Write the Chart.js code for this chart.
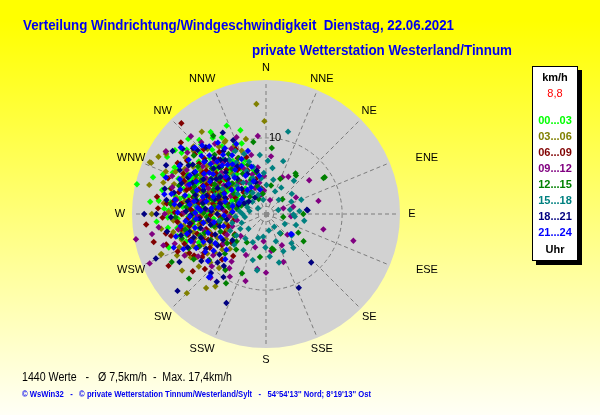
<!DOCTYPE html>
<html>
<head>
<meta charset="utf-8">
<script src="https://cdn.jsdelivr.net/npm/chart.js@4.4.0/dist/chart.umd.min.js"></script>
<style>
html, body { margin: 0; padding: 0; }
body {
  width: 600px; height: 415px; position: relative; overflow: hidden;
  background: linear-gradient(#ffff00 0%, #ffff00 5%, #fffff6 100%);
  font-family: 'Liberation Sans', Arial, sans-serif;
}
#c { position: absolute; left: 0; top: 0; }
.t { position: absolute; white-space: pre; transform-origin: 0 50%; line-height: 1; }
.title { color: #0000f0; font-weight: bold; font-size: 14px; }
.foot1 { color: #000; font-size: 12px; }
.foot2 { color: #0000f0; font-weight: bold; font-size: 8.5px; }
#legend {
  position: absolute; left: 532px; top: 66px; width: 44px; height: 193px;
  background: #fff; border: 1px solid #000; box-shadow: 4px 4px 0 #000;
}
#legend div {
  position: absolute; left: 0; width: 44px; text-align: center;
  font-size: 11px; font-weight: bold; line-height: 12px;
}
</style>
</head>
<body>
<canvas id="c" width="600" height="415"></canvas>

<div class="t title" style="left:23px;top:18px" data-w="431">Verteilung Windrichtung/Windgeschwindigkeit  Dienstag, 22.06.2021</div>
<div class="t title" style="left:252px;top:43px" data-w="260">private Wetterstation Westerland/Tinnum</div>

<div id="legend"></div>

<div class="t foot1" style="left:22px;top:371px" data-w="210">1440 Werte   -   Ø 7,5km/h  -  Max. 17,4km/h</div>
<div class="t foot2" style="left:22px;top:390px" data-w="349">© WsWin32   -   © private Wetterstation Tinnum/Westerland/Sylt   -   54°54'13'' Nord; 8°19'13'' Ost</div>

<script>
// wind points as [direction in degrees, speed in km/h], grouped by 3-hour block
const h00_03 = [[283,17.4],[336,12.7],[343,11.5],[306,13.7],[294,13.4],[283,14.0],[277,14.2],[266,14.4],[272,12.8],[273,13.4],[271,12.4],[256,12.0],[251,13.5],[279,10.6],[336,10.0],[339,7.6],[341,9.8],[325,12.2],[318,13.1],[300,15.0],[288,15.6],[262,13.0],
  [290,9.2],[295,8.4],[301,10.1],[287,11.3],[278,9.7],[284,7.9],[298,6.8],[305,9.5],[312,8.7],[308,11.2],[296,10.7],[281,12.1],[275,11.0],[268,10.2],[264,8.8],[270,7.5],[292,12.4],[303,12.0],[315,10.4],[322,9.1],[328,8.2],[319,7.3],[310,6.4],[300,5.9],[289,6.2],[279,6.6],[286,8.6],[293,7.1],[299,9.8],[306,7.7],[313,11.8],[327,10.6],[333,9.4],[330,11.6],[317,12.5],[297,11.6],[283,10.4],[274,9.1],[267,11.6],[260,10.5],[258,9.0],[265,6.9],[276,8.3],[282,5.4],[291,4.8],[304,4.4],[316,5.6],[324,6.5],[335,7.2],[344,6.0],[311,9.9],[302,7.3],[294,9.9],[288,10.1],[280,11.5],[272,8.6],[261,11.8],[255,10.8],[253,8.5],[258,7.3],[247,9.6],[285,13.0],[297,13.5],[309,13.4],[320,11.0],[326,13.0],[314,14.2],[305,14.6],[291,14.5],[276,15.3],[268,12.9],[296,4.1],[287,3.6],[307,5.2],[321,4.3],[338,5.1],
  [293,10.9],[286,9.6],[299,8.0],[309,7.1],[281,8.9],[274,10.3],[262,9.7],[269,9.1],[304,10.6],[314,9.1],[321,7.9],[331,6.8],[289,11.9],[297,12.9],[277,12.6],[284,6.9],[292,5.9],[301,6.3],[259,11.4],[251,11.1]];

const h03_06 = [[355,14.5],[359,12.2],[294,16.7],[298,16.0],[331,11.0],[225,14.7],[215,11.6],[313,13.0],[294,16.5],[330,10.9],[262,13.9],[245,12.9],[249,14.8],[249,14.7],[236,13.3],[240,11.4],[301,15.3],[322,13.7],[284,15.8],[270,15.0],
  [262,10.9],[268,9.6],[256,9.8],[274,12.3],[279,10.8],[285,9.4],[291,11.2],[297,10.3],[303,11.4],[309,10.0],[316,9.2],[281,7.7],[272,7.0],[263,7.8],[255,6.9],[250,8.7],[246,10.4],[241,8.2],[236,9.3],[231,7.4],[288,12.7],[295,13.1],[266,12.2],[259,12.4],[276,13.5],[283,8.5],[292,8.0],[300,8.9],[307,8.3],[314,7.2],[324,8.0],[331,7.6],[339,8.9],[345,10.2],[325,10.8],[318,11.5],[311,12.6],[299,12.2],[286,11.0],[277,9.9],[270,10.9],[261,8.9],[253,11.6],[244,7.1],[238,6.2],[229,9.7],[248,5.6],[257,5.4],[267,5.0],[278,4.7],[290,6.0],[302,6.4],[312,5.8],[287,14.1],[293,14.3],[305,12.9],[274,11.7],[266,9.3],[258,11.1],[251,9.9],[270,8.3],[282,6.4],[297,9.0],[320,6.9],[335,9.8],[285,4.2],[276,6.1],[263,4.2],[243,11.8],[232,11.2],[221,9.4],[226,6.6],[219,12.5],[296,7.0],[310,8.8],[301,10.0],[289,8.9],
  [280,12.0],[288,10.2],[294,11.9],[304,10.3],[271,12.8],[264,11.5],[257,10.2],[249,12.2],[244,9.1],[238,10.7],[233,8.4],[275,6.4],[268,8.7],[260,7.1],[253,7.8]];

const h06_09 = [[317,16.3],[302,15.5],[256,15.2],[242,14.5],[290,13.7],[253,13.7],[247,12.6],[265,15.8],[310,14.6],[279,14.5],[232,12.2],[228,10.8],[335,9.4],
  [260,11.3],[266,10.4],[271,12.0],[277,11.2],[283,9.8],[289,10.6],[294,9.1],[300,10.8],[306,9.7],[312,10.9],[319,9.5],[325,8.6],[330,7.0],[337,6.2],[344,4.8],[350,3.4],[296,12.1],[285,12.9],[276,13.1],[268,13.6],[257,12.8],[250,11.4],[244,9.9],[239,8.6],[235,7.1],[240,10.9],[254,9.4],[262,8.5],[269,7.3],[275,8.8],[281,7.1],[287,6.5],[293,7.5],[299,8.2],[305,7.4],[311,6.9],[318,7.8],[323,10.2],[316,11.8],[304,12.5],[292,11.6],[280,10.3],[272,9.6],[263,9.9],[256,8.1],[249,7.6],[245,6.0],[252,5.2],[259,6.6],[266,6.0],[273,5.3],[284,5.0],[291,5.6],[298,4.6],[306,5.9],[314,4.1],[322,5.3],[327,6.9],[333,8.2],[341,7.9],[309,8.4],[297,6.2],[288,8.1],[279,9.0],[270,11.1],[261,10.2],[255,10.6],[248,8.9],[224,8.3],[230,5.9],[237,4.9],[284,11.8],[300,13.4],[307,11.0],[273,14.2],[295,10.2],[286,7.6],[277,6.7],[267,8.7],[258,4.4],[236,10.1],[218,7.0],
  [278,12.2],[265,11.7],[259,13.4],[251,10.5],[243,11.3],[282,8.3],[290,9.4],[296,8.7],[303,9.9],[310,12.2],[287,10.9],[274,10.0],[263,7.4],[246,8.3],[238,9.6]];

const h09_12 = [[316,14.2],[354,10.3],[5,7.6],[52,7.2],[76,7.1],[75,3.7],[105,7.8],[107,12.0],[259,17.4],[260,15.2],[253,14.1],[189,7.3],[180,7.7],[153,4.6],[302,15.5],[214,8.6],[247,16.6],[61,4.5],[95,3.3],[24,5.3],[160,6.7],[197,9.2],[206,6.0],[134,3.9],[31,5.7],[16,1.9],[72,2.4],
  [268,9.0],[274,7.8],[281,8.6],[288,9.9],[294,8.3],[301,9.2],[307,10.4],[313,8.0],[320,8.8],[327,7.7],[334,6.6],[341,5.5],[348,4.2],[355,3.1],[262,7.2],[255,8.4],[249,10.2],[243,12.0],[238,10.5],[232,8.8],[226,9.9],[221,11.1],[216,7.7],[210,9.5],[279,11.9],[286,12.8],[292,13.3],[299,11.9],[308,13.1],[318,12.7],[324,11.4],[270,13.3],[263,14.2],[284,6.0],[291,6.7],[297,5.2],[304,6.7],[311,7.4],[319,5.5],[328,4.9],[337,3.7],[345,2.6],[276,5.7],[266,4.8],[258,3.9],[250,4.7],[242,5.8],[235,6.8],[229,4.4],[198,4.6],[185,3.6],[172,4.9],[290,11.0],[279,10.0],[271,10.8],[260,11.7],[252,12.6],[300,7.5],[315,9.7],[332,9.7],[339,10.8],[346,8.0],[350,6.2],[357,5.0]];

const h12_15 = [[5,8.7],[38,6.4],[58,9.1],[90,4.9],[168,4.8],[126,6.1],[120,4.9],[202,8.4],[243,13.9],[36,6.6],[58,8.9],[22,5.0],[170,4.6],[350,9.6],[326,12.4],[246,11.1],[230,13.2],[210,10.5],[188,5.7],[143,3.2],[100,2.3],[48,2.9],[10,3.8],
  [300,7.8],[293,6.5],[286,5.5],[278,6.9],[271,8.2],[265,9.5],[259,10.8],[252,9.1],[245,8.0],[239,7.6],[233,6.4],[227,5.3],[220,6.1],[214,4.5],[283,9.6],[290,8.7],[297,9.6],[303,8.6],[310,9.3],[316,8.5],[323,7.4],[330,6.1],[336,4.9],[343,3.8],[351,2.7],[305,10.9],[296,11.4],[287,10.0],[275,10.5],[268,11.9],[257,7.0],[264,5.8],[272,4.5],[280,3.9],[289,3.4],[298,2.9],[308,3.7],[317,3.1],[326,3.5],[334,2.2],[312,6.0],[321,5.8],[328,9.3],[340,6.9],[347,5.6],[302,5.0],[294,4.2],[282,11.0],[276,12.6],[288,12.0],[260,6.2],[249,6.4],[236,5.0],[226,7.5],[216,9.1],[309,12.2],[319,10.3],[334,8.2],[274,7.3],[267,7.8],[295,7.6],[306,6.2],[281,5.0],[254,11.5],
  [262,8.3],[270,9.7],[279,8.4],[285,7.3],[291,10.1],[299,10.5],[307,7.7],[314,7.0],[253,8.4],[244,9.7],[238,11.2],[231,9.6]];

const h15_18 = [[15,11.2],[354,7.8],[12,4.6],[1,3.8],[22,3.2],[349,1.9],[68,5.0],[64,3.7],[80,3.2],[95,3.8],[72,1.7],[306,1.3],[147,2.0],[144,3.1],[187,3.0],[175,5.6],[139,5.1],[141,5.7],[198,3.3],[189,7.5],[91,3.6],[118,2.8],[130,4.4],[160,3.8],[170,2.2],[205,4.1],[212,5.6],[196,6.3],[181,4.4],[165,6.6],[155,5.4],[42,2.5],[30,4.0],[52,4.3],[8,6.1],[357,5.4],[2,7.0],[18,7.3],[40,5.7],[110,4.2],[100,5.1],[85,4.4],
  [340,5.0],[345,6.4],[348,3.4],[342,7.2],[336,6.2],[332,4.5],[328,3.3],[338,2.7],[352,4.7],[330,7.8],[324,5.1],[318,3.8],[312,2.4],[300,3.0],[290,2.6],[280,2.2],[270,3.1],[262,2.8],[250,3.4],[240,3.9],[230,3.0],[220,4.2],[226,5.8],[234,4.8],[245,5.2],[255,4.6],[265,4.0],[276,3.5],[286,4.6],[296,3.8],[305,4.6],[314,5.3],[320,6.6],[326,8.6],[334,9.2],[340,8.4],[310,7.9],[300,6.6],[290,7.2],[276,9.2],[262,6.2]];

const h18_21 = [[137,8.7],[156,10.6],[204,12.8],[229,15.4],[241,13.0],[216,11.0],[214,10.0],[85,5.5],[332,12.1],[304,14.8],[300,13.0],[313,12.3],[318,11.8],[336,10.6],[84,5.4],[248,15.6],[270,16.0],[225,9.0],
  [275,8.0],[281,9.3],[287,8.2],[293,10.5],[299,9.4],[305,8.0],[311,9.1],[317,10.0],[323,8.9],[329,7.3],[335,5.8],[342,4.4],[348,5.8],[264,7.6],[258,8.8],[252,10.0],[247,11.2],[240,9.1],[234,10.5],[229,8.1],[223,10.6],[219,8.8],[269,9.9],[276,11.4],[283,12.4],[290,11.8],[297,12.7],[304,11.6],[311,10.6],[320,9.3],[326,10.0],[286,7.0],[292,5.8],[298,7.2],[306,6.4],[313,6.8],[321,6.0],[278,5.9],[270,6.4],[262,5.2],[255,6.3],[248,7.2],[239,6.6],[232,5.6],[288,3.8],[296,3.2],[306,2.8],[316,4.6],[326,2.6],[268,12.5],[260,13.2],[284,13.7],[296,14.6],[308,13.9],[280,8.4],[300,10.9],[316,7.6],[272,10.5],[257,10.3],[266,8.8],
  [273,7.2],[279,10.4],[285,9.6],[291,8.8],[295,11.3],[302,8.5],[309,7.7],[315,8.7],[263,10.1],[256,11.5],[250,9.1],[244,8.2],[237,7.6],[283,6.2],[290,6.6],[259,7.4],[302,12.0],[312,12.9],[278,13.2],[270,14.4]];

const h21_24 = [[222,11.2],[222,11.0],[317,12.3],[128,4.3],[129,4.2],[313,12.8],[320,11.6],[308,14.2],[326,11.3],
  [271,9.3],[277,10.1],[283,10.9],[289,9.6],[295,10.1],[301,10.8],[306,9.2],[312,9.8],[318,8.6],[324,9.6],[330,8.9],[336,7.9],[343,6.5],[350,5.1],[265,10.6],[259,9.5],[252,8.0],[246,9.0],[240,7.7],[235,8.4],[228,7.0],[222,8.0],[276,7.2],[282,8.0],[288,7.3],[294,9.0],[300,8.5],[307,8.7],[313,7.2],[319,6.3],[325,7.1],[332,5.7],[339,4.6],[346,3.3],[268,5.5],[274,4.4],[283,4.5],[292,3.8],[302,3.7],[312,4.9],[322,4.0],[331,4.0],[279,12.1],[286,11.7],[292,12.2],[299,13.0],[305,12.4],[312,11.4],[262,11.3],[256,12.2],[250,12.9],[271,11.6],[290,14.0],[281,13.6],[296,6.1],[305,5.5],[287,5.6],[278,6.3],[261,6.9],[254,5.8],[243,6.7],[244,10.2],[317,9.4],[328,10.2],[337,10.0],[344,8.6],[309,6.3],[273,8.6],[266,9.2],
  [268,10.0],[275,9.0],[280,9.6],[285,8.6],[291,10.8],[297,11.2],[303,9.7],[310,10.6],[316,10.7],[322,8.2],[326,7.9],[333,7.1],[262,8.3],[256,10.7],[250,10.5],[247,11.8],[238,9.4],[231,9.8],[282,12.7],[276,12.1]];

const hourLabels = ['00...03', '03...06', '06...09', '09...12', '12...15', '15...18', '18...21', '21...24'];
const hourColors = ['#00ff00', '#808000', '#800000', '#800080', '#008000', '#008080', '#000080', '#0000ff'];
const dirLabels = ['N', 'NNE', 'NE', 'ENE', 'E', 'ESE', 'SE', 'SSE', 'S', 'SSW', 'SW', 'WSW', 'W', 'WNW', 'NW', 'NNW'];
const ringValues = [1, 10];
const maxSpeed = 17.6;

const series = [h00_03, h03_06, h06_09, h09_12, h12_15, h15_18, h18_21, h21_24];

// legend box
const legend = document.getElementById('legend');
const rows = [['km/h', '#000', 4, true], ['8,8', '#ff0000', 20, false]];
hourLabels.forEach((l, i) => rows.push([l, hourColors[i], 47 + i * 16, true]));
rows.push(['Uhr', '#000', 176, true]);
rows.forEach(r => {
  const d = document.createElement('div');
  d.textContent = r[0];
  d.style.color = r[1];
  d.style.top = r[2] + 'px';
  if (!r[3]) d.style.fontWeight = 'normal';
  legend.appendChild(d);
});

// squeeze text lines to the widths seen in the picture
document.querySelectorAll('[data-w]').forEach(el => {
  const w = el.getBoundingClientRect().width;
  el.style.transform = 'scaleX(' + (+el.dataset.w / w) + ')';
});

function toXY(p) {
  const a = p[0] * Math.PI / 180;
  return { x: p[1] * Math.sin(a), y: p[1] * Math.cos(a) };
}

// grey disk, dashed rings and spokes, compass labels
const roseGrid = {
  id: 'roseGrid',
  beforeDatasetsDraw(chart) {
    const { ctx, scales } = chart;
    const cx = scales.x.getPixelForValue(0);
    const cy = scales.y.getPixelForValue(0);
    const pxPer = scales.x.getPixelForValue(1) - cx;
    const R = pxPer * maxSpeed;
    ctx.save();
    ctx.fillStyle = '#d2d2d2';
    ctx.beginPath();
    ctx.arc(cx, cy, R, 0, Math.PI * 2);
    ctx.fill();

    ctx.strokeStyle = '#7c7c7c';
    ctx.lineWidth = 1;
    ctx.setLineDash([4, 3]);
    ringValues.forEach(v => {
      ctx.beginPath();
      ctx.arc(cx, cy, v * pxPer, 0, Math.PI * 2);
      ctx.stroke();
    });
    dirLabels.forEach((l, i) => {
      const a = i * 22.5 * Math.PI / 180;
      const r0 = i % 4 === 0 ? 0 : ringValues[0] * pxPer;
      ctx.beginPath();
      ctx.moveTo(cx + r0 * Math.sin(a), cy - r0 * Math.cos(a));
      ctx.lineTo(cx + (R - 2) * Math.sin(a), cy - (R - 2) * Math.cos(a));
      ctx.stroke();
    });
    ctx.setLineDash([]);
    ctx.fillStyle = '#8a8a8a';
    ctx.fillRect(cx - 2, cy - 2, 5, 5);

    ctx.fillStyle = '#000';
    ctx.font = '11px "Liberation Sans", Arial, sans-serif';
    ctx.textAlign = 'center';
    ctx.textBaseline = 'middle';
    const shift = { NNW: -8, SSW: -8, ENE: 26, ESE: 26 };
    dirLabels.forEach((l, i) => {
      const a = i * 22.5 * Math.PI / 180;
      const r = R + 12;
      ctx.fillText(l, cx + r * Math.sin(a) + (shift[l] || 0), cy - r * Math.cos(a));
    });
    ctx.fillText('10', cx + 9, cy - 10 * pxPer);
    ctx.restore();
  }
};

const datasets = series.map((pts, i) => ({
  label: hourLabels[i],
  data: pts.map(toXY),
  backgroundColor: hourColors[i],
  borderColor: hourColors[i],
  borderWidth: 0,
  pointStyle: 'rectRot',
  pointRadius: 3.2,
  pointHoverRadius: 3.2,
  clip: false,
  order: series.length - i
}));

new Chart(document.getElementById('c'), {
  type: 'scatter',
  data: { datasets: datasets },
  options: {
    responsive: false,
    animation: false,
    events: [],
    layout: { padding: { left: 132, right: 200, top: 80, bottom: 67 } },
    plugins: { legend: { display: false }, tooltip: { enabled: false } },
    scales: {
      x: { type: 'linear', min: -maxSpeed, max: maxSpeed, display: false },
      y: { type: 'linear', min: -maxSpeed, max: maxSpeed, display: false }
    }
  },
  plugins: [roseGrid]
});
</script>
</body>
</html>
